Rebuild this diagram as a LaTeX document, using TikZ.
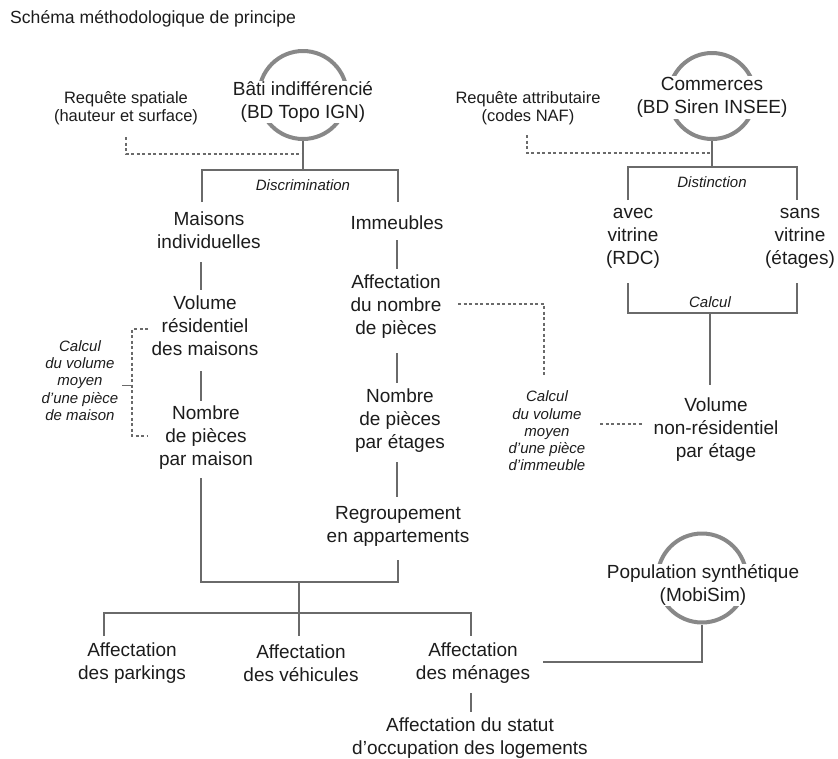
\documentclass[tikz,border=0pt]{standalone}
\usepackage{fontspec}
\setmainfont{Liberation Sans}
\definecolor{textc}{HTML}{1C1C1C}
\definecolor{linec}{HTML}{6A6A6A}
\definecolor{ringc}{HTML}{888888}
\begin{document}
\begin{tikzpicture}[x=1pt,y=-1pt,
  txt/.style={align=center, text=textc, font=\fontsize{19}{23}\selectfont, inner sep=0pt},
  side/.style={align=center, text=textc, font=\fontsize{16.5}{18}\selectfont, inner sep=0pt},
  note/.style={align=center, text=textc, font=\fontsize{15}{17.2}\selectfont\itshape, inner sep=0pt},
  ring/.style={circle, draw=ringc, line width=4pt, minimum size=#1, inner sep=0pt},
  src/.style={txt, fill=white, inner sep=1pt},
  link/.style={draw=linec, line width=1.3pt},
  dlink/.style={draw=linec, line width=1.1pt, dash pattern=on 3pt off 2.5pt},
]
\useasboundingbox (0,0) rectangle (838,758);

% heading
\node[anchor=west, text=textc, font=\fontsize{17.6}{19}\selectfont, inner sep=0pt] (title) at (10,19) {Schéma méthodologique de principe};

% data sources: grey rings with their labels on top
\node[ring=88pt] (batiring) at (303,95) {};
\node[src] (bati) at (303,102) {Bâti indifférencié\\(BD Topo IGN)};
\node[ring=86pt] (comring) at (712,96) {};
\node[src] (com) at (712,97.5) {Commerces\\(BD Siren INSEE)};
\node[ring=89pt] (popring) at (702,578) {};
\node[src] (pop) at (703,585) {Population synthétique\\(MobiSim)};

% queries
\node[side] (reqsp) at (126,108) {Requête spatiale\\(hauteur et surface)};
\node[side] (reqat) at (528,108) {Requête attributaire\\(codes NAF)};

% branch labels
\node[note] (discr) at (303,185) {Discrimination};
\node[note] (dist) at (712,182) {Distinction};
\node[note] (calc) at (710,302) {Calcul};
\node[note] (calcm) at (80,380.5) {Calcul\\du volume\\moyen\\d’une pièce\\de maison};
\node[note] (calci) at (547,431) {Calcul\\du volume\\moyen\\d’une pièce\\d’immeuble};

% processing steps
\node[txt] (maisons) at (209,230.5) {Maisons\\individuelles};
\node[txt] (imm) at (397,223) {Immeubles};
\node[txt] (volres) at (205,326) {Volume\\résidentiel\\des maisons};
\node[txt] (affnb) at (396,307) {Affectation\\du nombre\\de pièces};
\node[txt] (nbmai) at (206,438) {Nombre\\de pièces\\par maison};
\node[txt] (nbet) at (400,421) {Nombre\\de pièces\\par étages};
\node[txt] (regr) at (398,526) {Regroupement\\en appartements};
\node[txt] (avec) at (633,238.5) {avec\\vitrine\\(RDC)};
\node[txt] (sans) at (800,238.5) {sans\\vitrine\\(étages)};
\node[txt] (volnr) at (716,430) {Volume\\non-résidentiel\\par étage};
\node[txt] (park) at (132,663) {Affectation\\des parkings};
\node[txt] (vehic) at (301,663) {Affectation\\des véhicules};
\node[txt] (men) at (473,663) {Affectation\\des ménages};
\node[txt] (statut) at (470,738) {Affectation du statut\\d’occupation des logements};

% junction and line-end points
\coordinate (bjoin) at (303,170);
\coordinate (bl) at (202,170);
\coordinate (br) at (398,170);
\coordinate (blend) at (202,202);
\coordinate (brend) at (398,202);
\coordinate (cjoin) at (712,167);
\coordinate (cl) at (628,167);
\coordinate (cr) at (797,167);
\coordinate (clend) at (628,200);
\coordinate (crend) at (797,200);
\coordinate (avbot) at (628,283);
\coordinate (sabot) at (797,283);
\coordinate (kl) at (628,313);
\coordinate (kr) at (797,313);
\coordinate (kmid) at (710,313);
\coordinate (kend) at (710,385);
\coordinate (spq) at (126,137);
\coordinate (spjoin) at (303,154);
\coordinate (atq) at (527,135);
\coordinate (atjoin) at (712,153);

\coordinate (m1a) at (201,262); \coordinate (m1b) at (201,290);
\coordinate (m2a) at (201,371); \coordinate (m2b) at (201,401);
\coordinate (m3a) at (201,478);
\coordinate (i1a) at (397,240); \coordinate (i1b) at (397,269);
\coordinate (i2a) at (397,353); \coordinate (i2b) at (397,383);
\coordinate (i3a) at (397,462); \coordinate (i3b) at (397,497);
\coordinate (r1a) at (398,560);
\coordinate (ml) at (201,582);
\coordinate (mr) at (398,582);
\coordinate (mmid) at (299,582);
\coordinate (lowl) at (104,613);
\coordinate (lowr) at (471,613);
\coordinate (lowlend) at (104,636);
\coordinate (lowrend) at (471,636);
\coordinate (lowmend) at (299,636);
\coordinate (mena) at (471,693);
\coordinate (menb) at (471,712);
\coordinate (menr) at (543,662);
\coordinate (popj) at (702,662);

\coordinate (bkt) at (148,329);
\coordinate (bkb) at (148,436);
\coordinate (bktick) at (122,385);
\coordinate (bkmid) at (132,385);
\coordinate (ia) at (458,304);
\coordinate (ib) at (544,377);
\coordinate (va) at (600,424);
\coordinate (vb) at (643,424);

% solid connectors
\draw[link] (batiring.south) -- (bjoin);
\draw[link] (blend) -- (bl) -- (br) -- (brend);
\draw[link] (comring.south) -- (cjoin);
\draw[link] (clend) -- (cl) -- (cr) -- (crend);
\draw[link] (avbot) -- (kl) -- (kr) -- (sabot);
\draw[link] (kmid) -- (kend);
\draw[link] (m1a) -- (m1b);
\draw[link] (m2a) -- (m2b);
\draw[link] (m3a) -- (ml) -- (mr) -- (r1a);
\draw[link] (i1a) -- (i1b);
\draw[link] (i2a) -- (i2b);
\draw[link] (i3a) -- (i3b);
\draw[link] (mmid) -- (lowmend);
\draw[link] (lowlend) -- (lowl) -- (lowr) -- (lowrend);
\draw[link] (mena) -- (menb);
\draw[link] (menr) -- (popj) -- (popring.south);

% dashed connectors
\draw[dlink] (spq) |- (spjoin);
\draw[dlink] (atq) |- (atjoin);
\draw[dlink] (bkt) -| (bkmid) |- (bkb);
\draw[link, line width=0.8pt] (bktick) -- (bkmid);
\draw[dlink] (ia) -| (ib);
\draw[dlink] (va) -- (vb);
\end{tikzpicture}
\end{document}
